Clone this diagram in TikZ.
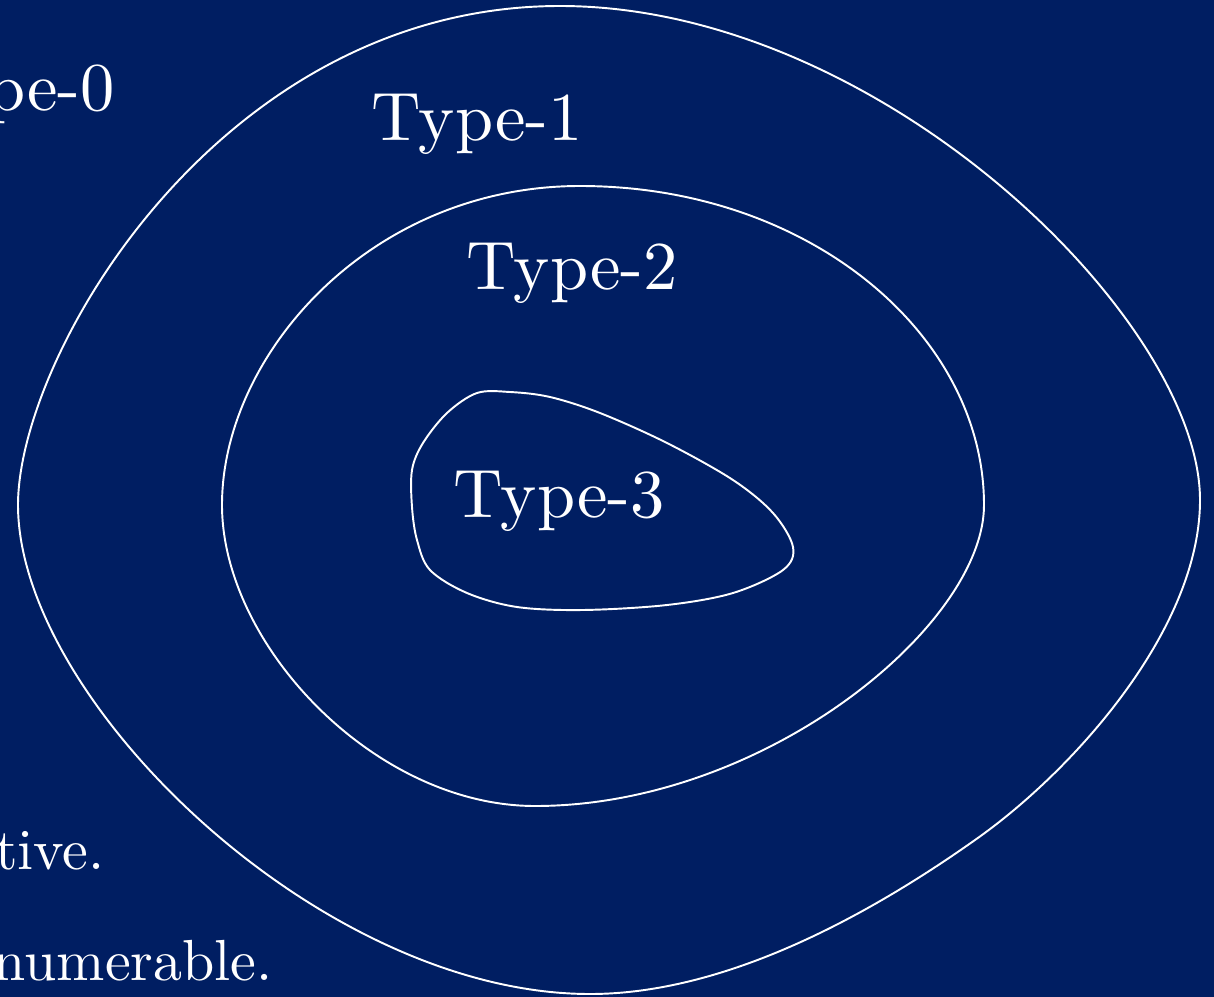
\documentclass[tikz,border=0pt]{standalone}
\usepackage{fontspec}
\setmainfont{lmroman10-regular.otf}
\definecolor{navy}{RGB}{0,30,98}
\tikzset{
  boundary/.style={draw=white, line width=1.1pt},
  label/.style={text=white, inner sep=0pt, font=\fontsize{39}{47}\selectfont},
  remark/.style={text=white, inner sep=0pt, font=\fontsize{33}{40}\selectfont}
}
\begin{document}
\begin{tikzpicture}[x=0.02cm, y=-0.02cm]
  \useasboundingbox (0,0) rectangle (1214,997);
  \clip (0,0) rectangle (1214,997);
  \fill[navy] (0,0) rectangle (1214,997);

  % Type-1 region
  \draw[boundary] (560,6) .. controls (880,6) and (1200,320) .. (1200,500)
    .. controls (1200,630) and (1072,772) .. (975,840)
    .. controls (859,922) and (720,994) .. (590,994)
    .. controls (320,994) and (18,700) .. (18,505)
    .. controls (18,355) and (220,6) .. (560,6) -- cycle;

  % Type-2 region
  \draw[boundary] (580,186) .. controls (810,186) and (984,335) .. (984,505)
    .. controls (984,625) and (765,806) .. (535,806)
    .. controls (375,806) and (222,645) .. (222,505)
    .. controls (222,355) and (370,186) .. (580,186) -- cycle;

  % Type-3 region
  \draw[boundary] plot[smooth cycle, tension=0.55] coordinates {
    (510,392) (550,397) (600,413) (667,443) (733,480) (773,513) (793,547)
    (783,570) (733,593) (667,605) (583,610) (517,607) (467,593) (430,570)
    (417,540) (412,507) (412,470) (423,443) (447,413) (477,393)};

  \node[label, anchor=base east] (t0) at (115,111) {Type-0};
  \node[label, anchor=base west] (t1) at (371,141) {Type-1};
  \node[label, anchor=base west] (t2) at (466,289) {Type-2};
  \node[label, anchor=base west] (t3) at (453,517) {Type-3};

  \node[remark, anchor=base east] (r1) at (105,869) {tive.};
  \node[remark, anchor=base east] (r2) at (273,980) {numerable.};
\end{tikzpicture}
\end{document}
